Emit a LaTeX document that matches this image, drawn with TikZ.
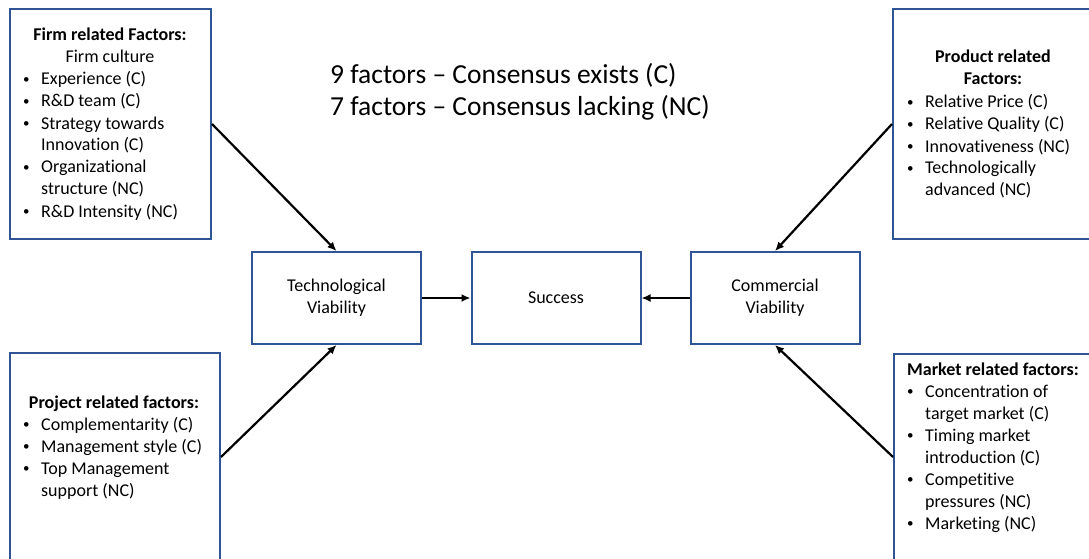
\documentclass[tikz,border=0pt]{standalone}
\usepackage{fontspec}
\setmainfont{Carlito}[Ligatures={TeX,NoCommon}]
\usetikzlibrary{arrows.meta}
\definecolor{boxblue}{RGB}{47,85,151}
\newcommand{\bodyfont}{\fontsize{18}{22}\selectfont}
\newcommand{\titlefont}{\fontsize{27.5}{32}\selectfont}
\newcommand{\bul}{\makebox[18pt][l]{\raisebox{1.6pt}{\fontsize{13}{13}\selectfont •}}}
\newcommand{\nob}{\makebox[18pt][l]{}}
\tikzset{
  frame/.style={draw=boxblue, line width=2pt, fill=white, inner sep=0pt},
  mainbox/.style={frame, minimum width=169pt, minimum height=92pt, align=center, font=\bodyfont},
  txt/.style={inner sep=0pt, font=\bodyfont},
  arr/.style={line width=2.2pt, -{Latex[length=9pt,width=8pt]}}
}
\begin{document}
\begin{tikzpicture}[x=1pt,y=-1pt]
\useasboundingbox (0,0) rectangle (1089,559);
\fill[white] (0,0) rectangle (1089,559);
\clip (0,0) rectangle (1089,559);

% factor boxes
\node[frame, minimum width=201pt, minimum height=230pt] (firm) at (110.5,124) {};
\node[frame, minimum width=207pt, minimum height=230pt] (product) at (996.5,124) {};
\node[frame, minimum width=210pt, minimum height=208pt] (project) at (115,457) {};
\node[frame, minimum width=206pt, minimum height=206pt] (market) at (997,457) {};

% central chain
\node[mainbox] (tech) at (336.5,298) {Technological\\Viability};
\node[mainbox] (success) at (556,298) {Success};
\node[mainbox] (comm) at (775,298) {Commercial\\Viability};

% headline
\node[inner sep=0pt, anchor=base west, font=\titlefont] (legend) at (330,84)
  {\begin{tabular}[t]{@{}l@{}}9 factors – Consensus exists (C)\\7 factors – Consensus lacking (NC)\end{tabular}};

% firm related factors
\node[txt, anchor=base] (firmhead) at (110,41)
  {\begin{tabular}[t]{@{}c@{}}\textbf{Firm related Factors:}\\Firm culture\end{tabular}};
\node[txt, anchor=base west] (firmlist) at (23,85)
  {\begin{tabular}[t]{@{}l@{}}\bul Experience (C)\\\bul R\&D team (C)\\\bul Strategy towards\\\nob Innovation (C)\\\bul Organizational\\\nob structure (NC)\\\bul R\&D Intensity (NC)\end{tabular}};

% product related factors
\node[txt, anchor=base] (prodhead) at (993,63)
  {\begin{tabular}[t]{@{}c@{}}\textbf{Product related}\\\textbf{Factors:}\end{tabular}};
\node[txt, anchor=base west] (prodlist) at (907,108)
  {\begin{tabular}[t]{@{}l@{}}\bul Relative Price (C)\\\bul Relative Quality (C)\\\bul Innovativeness (NC)\\\bul Technologically\\\nob advanced (NC)\end{tabular}};

% project related factors
\node[txt, anchor=base] (projhead) at (114,408) {\textbf{Project related factors:}};
\node[txt, anchor=base west] (projlist) at (23,430)
  {\begin{tabular}[t]{@{}l@{}}\bul Complementarity (C)\\\bul Management style (C)\\\bul Top Management\\\nob support (NC)\end{tabular}};

% market related factors
\node[txt, anchor=base west] (markhead) at (907,375) {\textbf{Market related factors:}};
\node[txt, anchor=base west] (marklist) at (907,397)
  {\begin{tabular}[t]{@{}l@{}}\bul Concentration of\\\nob target market (C)\\\bul Timing market\\\nob introduction (C)\\\bul Competitive\\\nob pressures (NC)\\\bul Marketing (NC)\end{tabular}};

% connectors
\draw[arr] (firm.east) -- (tech.north);
\draw[arr] (project.east) -- (tech.south);
\draw[arr] (product.west) -- (comm.north);
\draw[arr] (market.west) -- (comm.south);
\draw[arr] (tech.east) -- (success.west);
\draw[arr] (comm.west) -- (success.east);
\end{tikzpicture}
\end{document}
